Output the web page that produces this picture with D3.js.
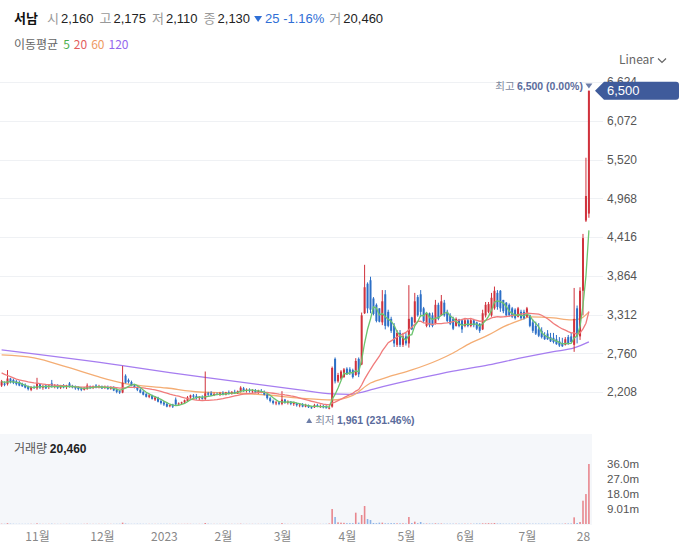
<!DOCTYPE html>
<html><head><meta charset="utf-8">
<script src="https://cdn.jsdelivr.net/npm/d3@7"></script>
<style>
html,body{margin:0;padding:0;background:#fff;}
svg{display:block;font-family:"Noto Sans CJK KR","Noto Sans",sans-serif;}
</style></head><body>
<svg id="chart" width="686" height="552"></svg>
<script>
// ---------- DATA ----------
const open = [
2300,2330,2320,2400,2380,2360,2350,2320,2310,2290,
2240,2280,2260,2320,2270,2300,2280,2330,2290,2300,
2270,2290,2280,2330,2290,2290,2270,2260,2240,2250,
2290,2270,2300,2280,2290,2270,2280,2260,2280,2240,
2220,2200,2440,2380,2350,2300,2270,2240,2210,2180,
2140,2160,2100,2130,2080,2060,2040,2010,2030,2100,
2040,2045,2060,2080,2130,2160,2150,2120,2130,2110,
2190,2190,2160,2180,2170,2190,2170,2200,2190,2210,
2200,2220,2260,2230,2240,2220,2230,2200,2220,2210,
2170,2120,2080,2050,2060,2040,2100,2060,2070,2040,
2050,2020,2030,2000,2020,1990,1990,2020,2000,2010,
1990,1980,
2000,2680,2360,2400,2420,2540,2530,2520,2450,2680,
2600,3330,3750,3800,3540,3450,3400,3200,3600,3350,
3250,3150,2880,3050,2880,3000,2900,3270,3200,3560,
3600,3400,3150,3330,3300,3180,3450,3300,3480,3350,
3300,3250,3150,3240,3230,3150,3230,3150,3230,3200,
3180,3100,3300,3350,3300,3400,3620,3650,3520,3480,
3450,3400,3380,3280,3350,3350,3280,3300,3200,3150,
3100,3080,3020,3040,2990,2980,2960,2930,2900,2880,
2990,3000,2880,3400,3000,3650,4650,4750];
const high = [
2380,2360,2520,2410,2400,2380,2370,2340,2330,2300,
2290,2300,2410,2330,2310,2310,2320,2380,2320,2320,
2310,2320,2310,2350,2310,2300,2290,2280,2280,2330,
2300,2300,2320,2310,2300,2300,2300,2290,2290,2260,
2240,2580,2460,2400,2370,2320,2290,2260,2230,2200,
2180,2170,2150,2140,2100,2080,2060,2030,2040,2130,
2060,2070,2100,2150,2170,2180,2180,2150,2160,2500,
2210,2220,2200,2200,2210,2220,2210,2230,2220,2240,
2230,2290,2280,2260,2260,2250,2250,2240,2250,2230,
2180,2140,2100,2080,2080,2220,2110,2090,2080,2070,
2060,2050,2050,2040,2030,2010,2040,2040,2030,2030,
2020,2000,
2570,2700,2480,2520,2550,2560,2560,2540,2690,2700,
3340,4020,3770,3850,3560,3470,3400,3660,3660,3380,
3280,3190,3090,3090,3050,3050,3730,3280,3620,3590,
3660,3420,3340,3340,3340,3520,3480,3590,3520,3380,
3330,3280,3270,3250,3250,3250,3250,3250,3250,3210,
3190,3380,3490,3490,3620,3710,3660,3660,3520,3490,
3470,3420,3400,3420,3380,3380,3420,3310,3240,3210,
3190,3130,3060,3090,3050,3050,3020,2990,2980,2990,
3020,3050,3690,3440,3700,4460,5545,6500];
const low = [
2280,2290,2300,2330,2320,2300,2290,2280,2260,2230,
2220,2250,2240,2250,2240,2250,2250,2270,2260,2250,
2250,2260,2250,2270,2260,2240,2230,2220,2230,2240,
2250,2250,2260,2260,2250,2250,2240,2240,2220,2190,
2180,2190,2330,2330,2290,2260,2220,2190,2160,2130,
2120,2100,2080,2060,2030,2010,1990,1990,1980,2010,
2020,2030,2040,2070,2110,2120,2100,2090,2100,2080,
2150,2150,2150,2160,2150,2160,2160,2170,2170,2180,
2180,2200,2210,2200,2200,2190,2190,2180,2190,2160,
2100,2060,2030,2020,2020,2020,2040,2030,2020,2010,
2000,1990,1990,1990,1980,1970,1980,1990,1980,1975,
1975,1961,
1985,2330,2340,2380,2410,2450,2450,2400,2440,2420,
2590,3320,3330,3330,3300,3200,3200,3160,3100,3130,
3050,2850,2850,2850,2850,2870,2840,3090,3190,3280,
3280,3190,3130,3130,3130,3170,3230,3290,3280,3200,
3160,3090,3140,3130,3050,3130,3130,3130,3130,3090,
3050,3090,3270,3330,3280,3380,3380,3350,3330,3280,
3280,3260,3240,3270,3240,3240,3270,3130,3050,3020,
2990,2970,2950,2950,2920,2900,2880,2850,2850,2870,
2880,2910,2780,2900,2950,3300,4630,4690];
const close = [
2360,2310,2400,2350,2340,2320,2300,2290,2270,2250,
2280,2270,2330,2270,2290,2260,2300,2290,2300,2270,
2290,2280,2300,2290,2280,2260,2250,2240,2270,2300,
2270,2290,2270,2290,2260,2280,2250,2270,2230,2210,
2200,2340,2340,2350,2300,2270,2240,2200,2170,2140,
2160,2110,2130,2070,2050,2030,2000,2020,2000,2030,
2045,2060,2090,2130,2160,2140,2120,2140,2110,2190,
2170,2160,2180,2175,2190,2170,2200,2190,2210,2200,
2220,2270,2230,2240,2220,2230,2200,2230,2210,2170,
2120,2080,2050,2060,2040,2100,2060,2070,2040,2050,
2020,2030,2000,2020,1990,1985,2020,2000,2010,1990,
1980,1985,
2550,2360,2450,2500,2530,2470,2480,2420,2650,2460,
3300,3700,3400,3380,3320,3220,3210,3500,3150,3150,
3080,2900,3050,2880,3000,2900,3250,3100,3500,3300,
3350,3220,3320,3160,3150,3450,3250,3500,3300,3220,
3180,3110,3250,3150,3100,3230,3150,3230,3160,3110,
3080,3330,3450,3460,3550,3650,3420,3400,3360,3300,
3300,3280,3260,3400,3260,3260,3400,3150,3080,3040,
3010,2990,2960,2960,2930,2920,2890,2870,2860,2960,
2900,2920,3250,3000,3650,4400,5000,6500];
// volume, millions of shares
const volume = [
0.2,0.15,0.5,0.2,0.15,0.1,0.12,0.1,0.1,0.12,0.15,0.1,0.4,0.15,0.1,0.1,0.12,0.2,0.1,0.1,
0.1,0.1,0.12,0.15,0.1,0.1,0.1,0.1,0.12,0.2,0.1,0.1,0.1,0.12,0.1,0.1,0.1,0.1,0.12,0.15,
0.15,0.8,0.3,0.15,0.12,0.12,0.15,0.15,0.12,0.12,0.1,0.12,0.1,0.12,0.15,0.12,0.15,0.1,0.12,0.15,
0.1,0.1,0.12,0.15,0.12,0.1,0.1,0.1,0.1,0.6,0.2,0.1,0.1,0.1,0.1,0.1,0.1,0.1,0.1,0.1,
0.1,0.2,0.1,0.1,0.1,0.1,0.1,0.1,0.1,0.12,0.15,0.12,0.1,0.1,0.1,0.5,0.15,0.1,0.1,0.1,
0.1,0.1,0.1,0.1,0.1,0.1,0.1,0.1,0.1,0.1,0.15,0.3,
9.0,4.2,1.0,0.8,0.7,0.5,0.5,0.5,6.8,0.8,5.4,10.8,3.0,2.4,0.6,0.5,0.8,0.8,0.4,0.4,
0.5,0.5,0.4,0.4,0.4,0.3,4.2,0.6,1.4,0.5,1.2,0.3,0.3,0.3,0.3,0.4,0.3,0.3,0.2,0.2,
0.2,0.2,0.2,0.2,0.2,0.2,0.2,0.2,0.2,0.3,0.3,0.4,0.4,0.5,0.4,0.6,0.3,0.3,0.2,0.2,
0.2,0.2,0.2,0.2,0.2,0.2,0.2,0.2,0.2,0.2,0.2,0.2,0.2,0.2,0.2,0.2,0.2,0.2,0.2,0.3,
0.3,0.3,4.0,0.6,1.2,14.0,18.0,36.04];
// closes of the 19 sessions before the first visible one (for MA5 / MA20)
const priorCloses = [2750,2720,2690,2700,2660,2520,2480,2450,2440,2430,2420,2400,2410,2390,2380,2370,2360,2350,2340];
// MA60 / MA120: [session index, value]
const ma60Knots = [[0,2736],[11,2693],[22,2565],[33,2422],[41,2336],[56,2265],[67,2208],[78,2194],[90,2165],[101,2122],[112,2094],[119,2160],[125,2336],[131,2422],[139,2522],[148,2664],[153,2764],[159,2907],[165,3021],[170,3135],[176,3235],[179,3278],[187,3263],[193,3235],[196,3250],[199,3349]];
const ma120Knots = [[0,2807],[41,2583],[57,2483],[67,2426],[101,2237],[112,2180],[118,2175],[121,2195],[126,2250],[142,2408],[153,2505],[165,2593],[176,2693],[187,2783],[194,2836],[199,2921]];
const monthTickIdx = [12,34,55,75,95,117,137,157,178,197];
const monthTickLabels = ['11월','12월','2023','2월','3월','4월','5월','6월','7월','28'];
const priceTicks = [2208,2760,3312,3864,4416,4968,5520,6072,6624];
const volTicks = [9.01,18.0,27.0,36.0];
const volTickLabels = ['9.01m','18.0m','27.0m','36.0m'];
const stockName = '서남';
const quoteLabels = ['시','고','저','종'];
const quoteValues = ['2,160','2,175','2,110','2,130'];
const changeText = '25 -1.16%';
const volLabelText = '20,460';
const maPeriods = ['5','20','60','120'];

// ---------- STYLE ----------
const UP = '#d0323c', DOWN = '#2c6fc6';
const VUP = '#e8878e', VDOWN = '#8db2e6';
const MA_COL = ['#6cc46e','#f07b7b','#f4ad74','#a67df0'];
const MA_TXT = ['#4caf50','#e35d5d','#ee9a62','#9567ee'];
const NUMFONT = '"Liberation Sans",Arial,sans-serif';

const svg = d3.select('#chart');
const N = close.length;
const x = d3.scaleLinear().domain([0, N - 1]).range([1.6, 588.9]);
const y = d3.scaleLinear().domain([2208, 6624]).range([392, 82]);
const yv = d3.scaleLinear().domain([0, 36.04]).range([524, 464]);

// grid
svg.append('g').selectAll('line').data(priceTicks).join('line')
  .attr('x1', 0).attr('x2', 603)
  .attr('y1', d => Math.round(y(d)) + 0.5).attr('y2', d => Math.round(y(d)) + 0.5)
  .attr('stroke', '#eff1f4').attr('stroke-width', 1);

// volume panel background
svg.append('rect').attr('x', 0).attr('y', 434).attr('width', 592).attr('height', 91).attr('fill', '#f5f7fa');

// volume bars
svg.append('g').selectAll('rect').data(d3.range(N)).join('rect')
  .attr('x', i => x(i) - 0.8).attr('width', 1.6)
  .attr('y', i => yv(volume[i])).attr('height', i => yv(0) - yv(volume[i]))
  .attr('fill', i => close[i] >= open[i] ? VUP : VDOWN);

// clip for price area
svg.append('defs').append('clipPath').attr('id', 'pc')
  .append('rect').attr('x', 0).attr('y', 70).attr('width', 595).attr('height', 360);
const pg = svg.append('g').attr('clip-path', 'url(#pc)');

// moving averages
const allC = priorCloses.concat(close);
function sma(n) {
  return close.map((c, i) => {
    const end = i + priorCloses.length, start = end - n + 1;
    return start < 0 ? null : d3.mean(allC.slice(start, end + 1));
  });
}
const lineIdx = d3.line().defined(d => d != null).x((d, i) => x(i)).y(d => y(d));
const lineKnot = d3.line().curve(d3.curveMonotoneX).x(d => x(d[0])).y(d => y(d[1]));
pg.append('path').attr('d', lineKnot(ma120Knots)).attr('fill', 'none').attr('stroke', MA_COL[3]).attr('stroke-width', 1.3);
pg.append('path').attr('d', lineKnot(ma60Knots)).attr('fill', 'none').attr('stroke', MA_COL[2]).attr('stroke-width', 1.3);

// candles
const cg = pg.append('g');
cg.selectAll('line').data(d3.range(N)).join('line')
  .attr('x1', i => x(i)).attr('x2', i => x(i))
  .attr('y1', i => y(high[i])).attr('y2', i => y(low[i]))
  .attr('stroke', i => close[i] >= open[i] ? UP : DOWN).attr('stroke-width', 1);
cg.selectAll('rect').data(d3.range(N)).join('rect')
  .attr('x', i => x(i) - 1).attr('width', 2)
  .attr('y', i => y(Math.max(open[i], close[i])))
  .attr('height', i => Math.max(1, Math.abs(y(open[i]) - y(close[i]))))
  .attr('fill', i => close[i] >= open[i] ? UP : DOWN);

pg.append('path').attr('d', lineIdx(sma(20))).attr('fill', 'none').attr('stroke', MA_COL[1]).attr('stroke-width', 1.3);
pg.append('path').attr('d', lineIdx(sma(5))).attr('fill', 'none').attr('stroke', MA_COL[0]).attr('stroke-width', 1.3);

// price axis (right)
const pa = svg.append('g').attr('transform', 'translate(601,0)')
  .call(d3.axisRight(y).tickValues(priceTicks).tickFormat(d3.format(',')).tickSize(0).tickPadding(6));
pa.select('.domain').remove();
pa.selectAll('text').attr('font-size', 12).attr('fill', '#555').attr('font-family', NUMFONT);

// volume axis
const va = svg.append('g').attr('transform', 'translate(601,0)')
  .call(d3.axisRight(yv).tickValues(volTicks).tickFormat((d, i) => volTickLabels[i]).tickSize(0).tickPadding(6));
va.select('.domain').remove();
va.selectAll('text').attr('font-size', 11.5).attr('fill', '#555').attr('font-family', NUMFONT);

// time axis
const ta = svg.append('g').attr('transform', 'translate(0,528)')
  .call(d3.axisBottom(x).tickValues(monthTickIdx).tickFormat((d, i) => monthTickLabels[i]).tickSize(0).tickPadding(4));
ta.select('.domain').remove();
ta.selectAll('text').attr('font-size', 12).attr('fill', '#888').attr('font-family', '"Noto Sans CJK KR",sans-serif');

// last price tag
const last = close[N - 1], ty = y(last);
svg.append('path')
  .attr('d', `M595,${ty} L604,${ty - 9} L676,${ty - 9} Q679,${ty - 9} 679,${ty - 6} L679,${ty + 6} Q679,${ty + 9} 676,${ty + 9} L604,${ty + 9} Z`)
  .attr('fill', '#3f5b9b');
svg.append('text').attr('x', 607).attr('y', ty + 4.5).attr('font-size', 13).attr('fill', '#fff')
  .attr('font-family', NUMFONT).text(d3.format(',')(last));

// high / low markers
const hiIdx = d3.maxIndex(high), loIdx = d3.minIndex(low);
const hiV = high[hiIdx], loV = low[loIdx];
const pct = v => d3.format('.2f')(Math.abs(last - v) / v * 100) + '%';
const ht = svg.append('text').attr('x', x(hiIdx) - 6).attr('y', 90).attr('text-anchor', 'end').attr('font-size', 10.5);
ht.append('tspan').attr('fill', '#7d889e').text('최고 ');
ht.append('tspan').attr('fill', '#5b6c9c').attr('font-weight', 'bold').attr('font-family', NUMFONT)
  .text(`${d3.format(',')(hiV)} (${pct(hiV)})`);
svg.append('path').attr('d', `M${x(hiIdx) - 3.5},83.5 L${x(hiIdx) + 3.5},83.5 L${x(hiIdx)},88.5 Z`).attr('fill', '#6d7ea8');

const lx = x(loIdx) - 23;
svg.append('path').attr('d', `M${lx},423 L${lx + 6},423 L${lx + 3},418 Z`).attr('fill', '#6d7ea8');
const lt = svg.append('text').attr('x', lx + 9).attr('y', 424).attr('font-size', 10.5);
lt.append('tspan').attr('fill', '#7d889e').text('최저 ');
lt.append('tspan').attr('fill', '#5b6c9c').attr('font-weight', 'bold').attr('font-family', NUMFONT)
  .text(`${d3.format(',')(loV)} (${pct(loV)})`);

// header (laid out sequentially)
const h1 = svg.append('g').attr('font-size', 13);
h1.append('text').attr('x', 14).attr('y', 23).attr('font-weight', 'bold').attr('fill', '#111').text(stockName);
let cx = 47;
function put(txt, fill, gapAfter, font) {
  const t = h1.append('text').attr('x', cx).attr('y', 23).attr('fill', fill).text(txt);
  if (font) t.attr('font-family', font);
  cx += t.node().getComputedTextLength() + gapAfter;
  return t;
}
quoteLabels.forEach((l, i) => {
  put(l, '#999', 2);
  put(quoteValues[i], '#222', 6, NUMFONT);
});
cx -= 2;
h1.append('path').attr('d', `M${cx},16 L${cx + 8},16 L${cx + 4},22 Z`).attr('fill', '#2f6fd6');
cx += 11;
put(changeText, '#2f6fd6', 5, NUMFONT);
put('거', '#999', 2);
put(volLabelText, '#222', 0, NUMFONT);

const h2 = svg.append('text').attr('x', 14).attr('y', 49).attr('font-size', 12);
h2.append('tspan').attr('fill', '#666').text('이동평균');
maPeriods.forEach((p, i) => h2.append('tspan').attr('dx', i === 0 ? 5 : 4).attr('fill', MA_TXT[i]).text(p));

// volume label
const vl = svg.append('text').attr('x', 14).attr('y', 453).attr('font-size', 12);
vl.append('tspan').attr('fill', '#555').text('거래량 ');
vl.append('tspan').attr('fill', '#222').attr('font-weight', 'bold').attr('font-family', NUMFONT).text(volLabelText);

// Linear selector
svg.append('text').attr('x', 619).attr('y', 64).attr('font-size', 12).attr('fill', '#666').text('Linear');
svg.append('path').attr('d', 'M658,58.5 L662,62.5 L666,58.5').attr('fill', 'none').attr('stroke', '#666').attr('stroke-width', 1.2);
</script>
</body></html>
